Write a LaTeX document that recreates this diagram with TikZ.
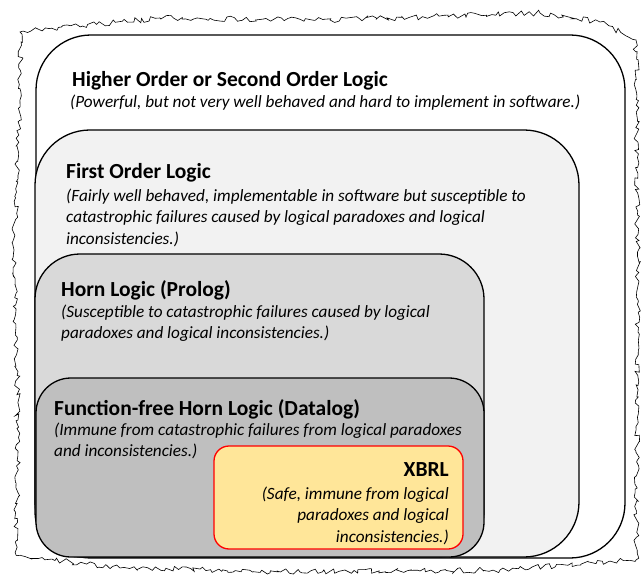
\documentclass[tikz,border=0pt]{standalone}
\usepackage{fontspec}
\setmainfont{Carlito}
\usetikzlibrary{decorations.pathmorphing}
\definecolor{level1}{HTML}{FFFFFF}
\definecolor{level2}{HTML}{F2F2F2}
\definecolor{level3}{HTML}{D9D9D9}
\definecolor{level4}{HTML}{BFBFBF}
\definecolor{xbrlfill}{HTML}{FFE699}
\begin{document}
\begin{tikzpicture}[x=1pt, y=-1pt,
	logicbox/.style={draw=black, line width=1.3pt},
	title/.style={anchor=base west, inner sep=0pt, font=\fontsize{21.5}{24}\selectfont\bfseries},
	note/.style={anchor=north west, inner sep=0pt, align=left, font=\fontsize{17.2}{21.2}\selectfont\itshape}]
	\useasboundingbox (0,0) rectangle (642,577);
	% torn paper edge
	\pgfmathsetseed{7}
	\draw[black, line width=0.6pt, decorate,
		decoration={random steps, segment length=3.5pt, amplitude=2.8pt}]
		(20,32) -- (160,18) -- (330,20) -- (540,13) -- (600,22) -- (636,40)
		-- (638,300) -- (636,560) -- (500,570) -- (300,572) -- (120,568)
		-- (16,555) -- (18,420) -- (14,250) -- (20,100) -- cycle;
	% nested logic levels
	\draw[logicbox, fill=level1, rounded corners=55pt] (36,35) rectangle (625,558);
	\draw[logicbox, fill=level2, rounded corners=55pt] (35,130) rectangle (579,557);
	\draw[logicbox, fill=level3, rounded corners=45pt] (35,254) rectangle (484,557);
	\draw[logicbox, fill=level4, rounded corners=35pt] (36,378) rectangle (484,557);
	\draw[draw=red, line width=1.3pt, fill=xbrlfill, rounded corners=15pt] (214,446) rectangle (463,549);
	% texts
	\node[title] (hol) at (72,87) {Higher Order or Second Order Logic};
	\node[note] (holnote) at (70,95) {(Powerful, but not very well behaved and hard to implement in software.)};
	\node[title] (fol) at (66,179) {First Order Logic};
	\node[note] (folnote) at (66,189) {(Fairly well behaved, implementable in software but susceptible to\\catastrophic failures caused by logical paradoxes and logical\\inconsistencies.)};
	\node[title] (horn) at (61,296) {Horn Logic (Prolog)};
	\node[note] (hornnote) at (61,305) {(Susceptible to catastrophic failures caused by logical\\paradoxes and logical inconsistencies.)};
	\node[title] (datalog) at (54,415) {Function-free Horn Logic (Datalog)};
	\node[note] (datalognote) at (54,423) {(Immune from catastrophic failures from logical paradoxes\\and inconsistencies.)};
	\node[title, anchor=base east] (xbrl) at (449,476) {XBRL};
	\node[note, anchor=north east, align=right] (xbrlnote) at (449,487) {(Safe, immune from logical\\paradoxes and logical\\inconsistencies.)};
\end{tikzpicture}
\end{document}
